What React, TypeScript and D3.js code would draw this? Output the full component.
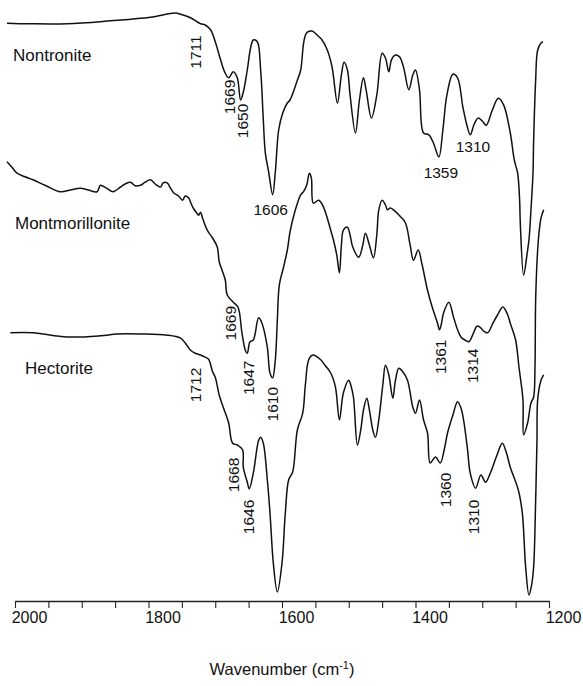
import React, {useEffect, useRef} from 'react'
import * as d3 from 'd3'

const WIDTH = 583
const HEIGHT = 686
const FONT = '"Liberation Sans", Arial, Helvetica, sans-serif'

// [wavenumber cm-1, transmittance (arbitrary units, curves offset)]
const nontronite: [number, number][] = [
  [2012, 96.3], [1978, 96.2], [1922, 96.2], [1857, 96.7], [1797, 97.3], [1760, 98.0],
  [1752, 97.8], [1737, 97.2], [1722, 96.2], [1715, 96.0], [1707, 95.2], [1700, 93.2],
  [1692, 90.2], [1686, 88.2], [1680, 87.2], [1673, 88.2], [1667, 87.2], [1662, 83.5],
  [1658, 84.8], [1652, 88.5], [1647, 92.2], [1643, 93.5], [1637, 93.2], [1632, 88.5],
  [1628, 80.2], [1625, 74.7], [1620, 71.5], [1614, 67.7], [1610, 71.5], [1605, 78.5],
  [1599, 81.3], [1592, 83.0], [1588, 83.5], [1577, 86.8], [1572, 88.5], [1568, 92.7],
  [1565, 94.3], [1562, 94.8], [1555, 95.0], [1547, 94.3], [1540, 93.5], [1532, 91.8],
  [1525, 89.0], [1517, 83.0], [1511, 87.7], [1507, 89.8], [1502, 88.5], [1498, 84.3],
  [1490, 78.0], [1484, 83.5], [1478, 87.2], [1474, 85.2], [1466, 80.5], [1458, 84.3],
  [1450, 91.3], [1445, 90.5], [1440, 88.2], [1436, 90.2], [1430, 91.0], [1424, 90.7],
  [1418, 89.0], [1410, 85.2], [1404, 87.7], [1400, 88.5], [1394, 85.2], [1388, 78.0],
  [1380, 77.7], [1373, 76.3], [1365, 74.0], [1359, 78.5], [1353, 84.3], [1344, 87.8],
  [1337, 87.2], [1329, 82.3], [1323, 79.3], [1318, 77.7], [1312, 79.5], [1306, 80.5],
  [1300, 80.0], [1294, 79.3], [1285, 81.8], [1276, 83.8], [1268, 82.7], [1258, 78.0],
  [1252, 73.5], [1247, 71.3], [1244, 66.8], [1243, 63.0], [1238, 54.3], [1233, 57.7],
  [1230, 60.2], [1227, 65.2], [1224, 71.3], [1223, 76.8], [1220, 86.8], [1217, 91.8],
  [1212, 93.0], [1209, 93.2],
]

const montmorillonite: [number, number][] = [
  [2012, 73.2], [2004, 72.2], [1997, 71.3], [1985, 70.7], [1973, 70.2], [1955, 69.3],
  [1932, 68.2], [1917, 68.5], [1902, 68.8], [1890, 68.5], [1877, 68.2], [1872, 69.3],
  [1863, 68.8], [1853, 68.2], [1842, 69.0], [1835, 69.5], [1827, 69.8], [1820, 69.2],
  [1812, 69.3], [1805, 69.8], [1797, 70.2], [1790, 69.5], [1782, 69.0], [1778, 69.7],
  [1772, 69.7], [1767, 68.8], [1762, 68.0], [1755, 67.5], [1749, 66.8], [1745, 67.5],
  [1740, 67.2], [1736, 66.2], [1733, 65.5], [1728, 64.7], [1725, 64.3], [1722, 64.8],
  [1719, 63.8], [1712, 61.8], [1704, 60.5], [1697, 59.0], [1694, 56.5], [1690, 55.2],
  [1685, 53.5], [1682, 51.0], [1673, 49.8], [1666, 49.0], [1660, 44.7], [1655, 41.8],
  [1652, 41.3], [1648, 43.2], [1643, 43.5], [1635, 47.2], [1630, 46.3], [1622, 42.3],
  [1618, 38.0], [1614, 37.2], [1610, 40.2], [1607, 46.8], [1604, 52.7], [1598, 55.5],
  [1592, 58.5], [1588, 61.5], [1580, 65.2], [1572, 67.7], [1568, 68.2], [1563, 69.3],
  [1559, 71.3], [1556, 70.5], [1553, 66.3], [1545, 66.8], [1538, 65.7], [1527, 61.8],
  [1523, 60.2], [1518, 57.7], [1514, 54.7], [1511, 59.3], [1508, 61.8], [1502, 62.3],
  [1498, 61.0], [1494, 59.0], [1485, 57.3], [1479, 59.3], [1475, 61.3], [1469, 59.3],
  [1463, 57.2], [1458, 61.0], [1455, 65.2], [1450, 66.8], [1445, 66.0], [1442, 65.2],
  [1438, 65.5], [1433, 65.2], [1422, 64.0], [1415, 63.0], [1408, 59.3], [1403, 56.8],
  [1396, 58.5], [1390, 56.0], [1382, 51.8], [1375, 49.0], [1367, 46.3], [1364, 45.2],
  [1361, 46.3], [1358, 48.0], [1350, 49.8], [1343, 47.3], [1337, 45.2], [1332, 44.0],
  [1326, 43.5], [1320, 43.2], [1313, 44.7], [1308, 45.8], [1304, 45.7], [1298, 45.0],
  [1292, 44.7], [1284, 46.3], [1278, 47.5], [1269, 49.0], [1262, 47.7], [1258, 46.3],
  [1250, 43.5], [1245, 39.0], [1239, 33.5], [1238, 27.7], [1232, 29.7], [1227, 33.0],
  [1223, 34.0], [1221, 39.0], [1220, 50.2], [1217, 58.5], [1215, 61.3], [1212, 63.8],
  [1208, 65.2],
]

const hectorite: [number, number][] = [
  [2007, 44.7], [1973, 44.7], [1922, 44.0], [1872, 44.2], [1847, 44.5], [1812, 44.5],
  [1772, 44.3], [1752, 43.8], [1745, 43.0], [1737, 41.8], [1730, 41.3], [1722, 41.0],
  [1716, 40.7], [1710, 40.3], [1704, 38.2], [1700, 37.3], [1694, 34.3], [1688, 32.3],
  [1680, 29.7], [1674, 26.3], [1667, 26.0], [1659, 25.2], [1658, 22.3], [1652, 19.8],
  [1649, 18.7], [1643, 21.3], [1635, 26.8], [1632, 27.3], [1628, 26.3], [1622, 20.2],
  [1618, 14.7], [1613, 6.3], [1607, 1.5], [1600, 6.3], [1595, 14.7], [1590, 20.2],
  [1584, 21.5], [1577, 28.5], [1569, 31.3], [1565, 36.0], [1560, 40.2], [1554, 41.0],
  [1542, 40.2], [1535, 39.2], [1527, 38.0], [1520, 35.7], [1514, 30.2], [1508, 34.7],
  [1500, 36.8], [1497, 36.0], [1493, 34.0], [1487, 26.0], [1482, 28.5], [1478, 31.8],
  [1473, 33.8], [1469, 31.8], [1464, 28.5], [1460, 27.3], [1455, 30.2], [1449, 36.0],
  [1445, 39.3], [1440, 37.7], [1434, 33.8], [1430, 36.8], [1425, 38.8], [1419, 38.2],
  [1412, 36.8], [1404, 32.3], [1400, 31.3], [1394, 33.5], [1388, 30.2], [1382, 28.0],
  [1378, 23.0], [1370, 24.0], [1363, 23.0], [1357, 25.2], [1352, 28.0], [1344, 31.0],
  [1337, 33.2], [1332, 32.2], [1328, 30.2], [1322, 25.2], [1318, 21.3], [1310, 18.8],
  [1302, 21.0], [1295, 19.8], [1288, 21.3], [1278, 24.3], [1270, 26.3], [1264, 24.8],
  [1258, 22.3], [1246, 18.5], [1240, 14.7], [1235, 5.7], [1230, 1.0], [1226, 2.7],
  [1223, 5.7], [1220, 16.8], [1218, 26.8], [1217, 33.5], [1212, 36.8], [1208, 37.7],
]

const samples = [
  {name: 'Nontronite', points: nontronite, at: [2003, 91.0]},
  {name: 'Montmorillonite', points: montmorillonite, at: [2000, 63.0]},
  {name: 'Hectorite', points: hectorite, at: [1985, 38.8]},
]

// peak annotations: text, wavenumber, transmittance at label centre, rotated?
const peakLabels: [string, number, number, boolean][] = [
  ['1711', 1730, 91.5, true], ['1669', 1679, 84.0, true], ['1650', 1660, 80.0, true],
  ['1606', 1617, 65.2, false], ['1359', 1362, 71.5, false], ['1310', 1314, 75.7, false],
  ['1669', 1677, 46.3, true], ['1647', 1650, 37.2, true], ['1610', 1614, 32.8, true],
  ['1361', 1362, 40.7, true], ['1314', 1314, 39.2, true],
  ['1712', 1730, 36.0, true], ['1668', 1673, 21.0, true], ['1646', 1650, 14.0, true],
  ['1360', 1355, 18.5, true], ['1310', 1313, 14.0, true],
]

const tickLabels = [2000, 1800, 1600, 1400, 1200]
const minorTicks = d3.range(1200, 2001, 50)

export default function App() {
  const axisRef = useRef<SVGGElement>(null)

  const x = d3.scaleLinear().domain([2000, 1200]).range([15, 549])
  const y = d3.scaleLinear().domain([0, 100]).range([601, 1])

  const line = d3.line<[number, number]>()
    .x(d => x(d[0]))
    .y(d => y(d[1]))
    .curve(d3.curveCatmullRom.alpha(0.5))

  useEffect(() => {
    const axis = d3.axisBottom(x)
      .tickValues(minorTicks)
      .tickFormat(d => tickLabels.includes(+d) ? String(d) : '')
      .tickSize(7)
      .tickSizeOuter(0)
      .tickPadding(4)
    const g = d3.select(axisRef.current)
    g.call(axis)
    g.select('.domain').attr('stroke', '#222').attr('stroke-width', 1.3)
    g.selectAll('.tick line').attr('stroke', '#222').attr('stroke-width', 1.1)
    // labels in the original sit a little right of their ticks
    g.selectAll('.tick text')
      .attr('dx', 14)
      .attr('fill', '#111')
      .style('font-family', FONT)
      .style('font-size', '16px')
  }, [])

  return <svg width={WIDTH} height={HEIGHT}
    style={{position: 'absolute', left: 0, top: 0, background: '#fff'}}>
    <g ref={axisRef} transform={`translate(0,${y(0)})`} />

    {samples.map(s => <g key={s.name}>
      <path d={line(s.points) || ''} fill='none' stroke='#111' strokeWidth={1.5}
        strokeLinejoin='round' />
      <text x={x(s.at[0])} y={y(s.at[1])} dy='0.35em' fontFamily={FONT}
        fontSize={17} fill='#111'>{s.name}</text>
    </g>)}

    {peakLabels.map(([text, w, t, vertical], i) => {
      const px = x(w), py = y(t)
      return <text key={i} x={0} y={0} dy='0.36em' textAnchor='middle'
        transform={`translate(${px},${py})${vertical ? ' rotate(-90)' : ''}`}
        fontFamily={FONT} fontSize={15.5} fill='#111'>{text}</text>
    })}

    <text x={x(1600)} y={675} textAnchor='middle' fontFamily={FONT} fontSize={16.5} fill='#111'>
      Wavenumber (cm<tspan fontSize={11} dy={-6}>-1</tspan><tspan dy={6}>)</tspan>
    </text>
  </svg>
}
